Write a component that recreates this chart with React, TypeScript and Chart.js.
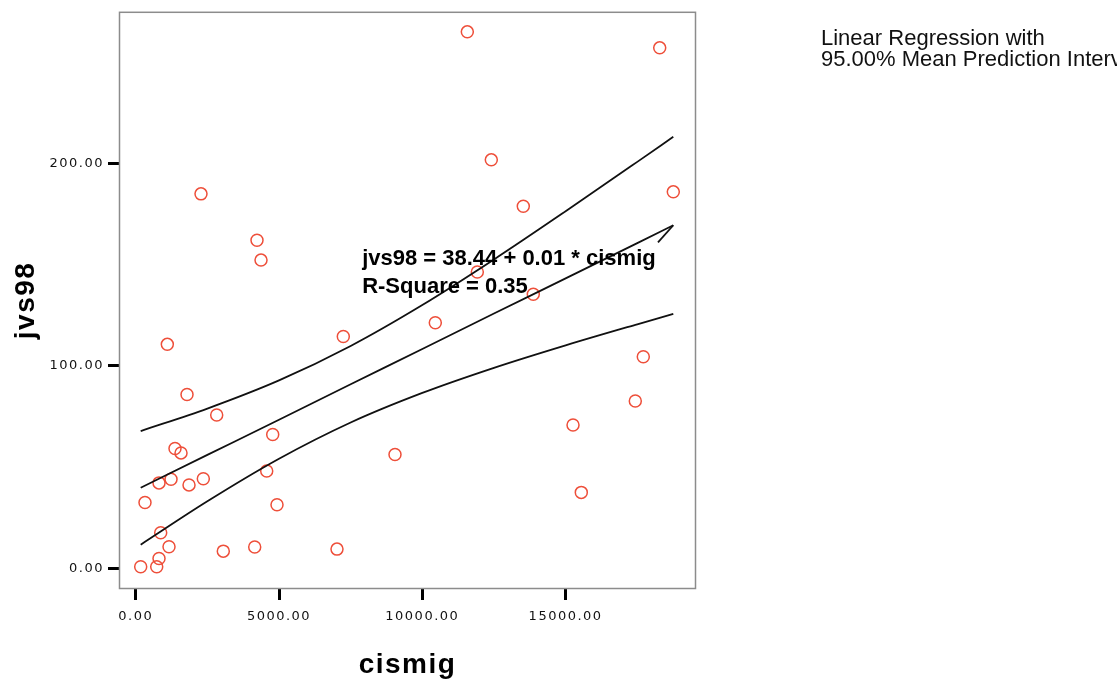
import React, { useEffect, useRef } from "react";
import { Chart, registerables } from "chart.js";

Chart.register(...registerables);

// ---- data ----
const cismig = [
  11570, 18283, 12407, 18757, 2278, 13523, 4232, 4372, 11919, 13872,
  7243, 10453, 1103, 17710, 1790, 17431, 2826, 4780, 1371, 1581,
  15258, 9047, 4571, 1232, 2359, 813, 1860, 15547, 324, 4930,
  872, 1162, 4152, 3056, 7023, 813, 174, 733,
];
const jvs98 = [
  264.9, 257.0, 201.7, 185.9, 184.9, 178.8, 162.0, 152.2, 146.3, 135.3,
  114.5, 121.3, 110.6, 104.5, 85.8, 82.6, 75.7, 66.1, 59.2, 57.0,
  70.8, 56.2, 48.1, 44.0, 44.2, 42.2, 41.2, 37.5, 32.5, 31.4,
  17.6, 10.7, 10.5, 8.5, 9.5, 4.9, 0.8, 0.8,
];

const bandX = [174, 2500, 5000, 7500, 10000, 12500, 15000, 17500, 18757];
const fitY = [39.8, 56.0, 73.4, 90.9, 108.3, 125.8, 143.2, 160.6, 169.4];
const upperY = [67.8, 78.9, 92.8, 109.8, 130.0, 152.5, 176.3, 200.7, 213.1];
const lowerY = [11.7, 33.1, 54.1, 72.0, 86.6, 99.0, 110.1, 120.5, 125.6];

const arrowX = [18757, 18223];
const arrowY = [169.4, 161.0];

const xTicks = [0, 5000, 10000, 15000];
const yTicks = [0, 100, 200];
const xRange = [-583, 19549];
const yRange = [-10.2, 274.8];

const xTitle = "cismig";
const yTitle = "jvs98";
const equationLines = ["jvs98 = 38.44 + 0.01 * cismig", "R-Square = 0.35"];
const equationAnchor = [7900, 150];
const legendLines = ["Linear Regression with", "95.00% Mean Prediction Interval"];

const pointColor = "#ee4f3a";
const lineColor = "#111111";

const overlayPlugin = {
  id: "overlay",
  beforeDraw(chart: any) {
    chart.ctx.letterSpacing = "1.5px";
  },
  beforeDatasetsDraw(chart: any) {
    const { ctx, chartArea } = chart;
    ctx.save();
    ctx.letterSpacing = "0px";
    ctx.strokeStyle = "#8c8c8c";
    ctx.lineWidth = 1.5;
    ctx.strokeRect(
      chartArea.left + 0.5,
      chartArea.top + 0.5,
      chartArea.right - chartArea.left - 1,
      chartArea.bottom - chartArea.top - 1
    );
    ctx.restore();
  },
  afterDraw(chart: any) {
    const { ctx } = chart;
    const xs = chart.scales.x;
    const ys = chart.scales.y;
    ctx.save();
    ctx.letterSpacing = "0px";
    ctx.fillStyle = "#000";
    ctx.textAlign = "left";
    ctx.textBaseline = "alphabetic";
    ctx.font = "bold 22px 'Liberation Sans', Arial, sans-serif";
    const ax = xs.getPixelForValue(equationAnchor[0]);
    const ay = ys.getPixelForValue(equationAnchor[1]);
    equationLines.forEach((t, i) => ctx.fillText(t, ax, ay + i * 28));
    ctx.font = "22px 'Liberation Sans', Arial, sans-serif";
    ctx.fillStyle = "#111";
    legendLines.forEach((t, i) => ctx.fillText(t, 821, 45 + i * 21));
    ctx.restore();
  },
};

export default function App() {
  const ref = useRef<HTMLCanvasElement | null>(null);

  useEffect(() => {
    if (!ref.current) return;
    const tickFont = { family: "'DejaVu Sans', sans-serif", size: 13 };
    const titleFont = { family: "'Liberation Sans', Arial, sans-serif", size: 28, weight: "bold" as const };
    const lineDs = (label: string, ys: number[]) => ({
      type: "line" as const,
      label,
      data: bandX.map((x, i) => ({ x, y: ys[i] })),
      borderColor: lineColor,
      borderWidth: 1.8,
      pointRadius: 0,
      fill: false,
      cubicInterpolationMode: "monotone" as const,
      tension: 0.4,
    });
    const chart = new Chart(ref.current, {
      type: "scatter",
      data: {
        datasets: [
          lineDs("Upper", upperY),
          lineDs("Fit", fitY),
          lineDs("Lower", lowerY),
          {
            type: "line" as const,
            label: "arrow",
            data: arrowX.map((x, i) => ({ x, y: arrowY[i] })),
            borderColor: lineColor,
            borderWidth: 1.8,
            pointRadius: 0,
            fill: false,
          },
          {
            label: "jvs98",
            data: cismig.map((x, i) => ({ x, y: jvs98[i] })),
            pointStyle: "circle",
            pointRadius: 6,
            pointBorderWidth: 1.5,
            borderColor: pointColor,
            backgroundColor: "rgba(0,0,0,0)",
          } as any,
        ],
      },
      options: {
        responsive: false,
        animation: false,
        layout: { padding: { left: 0, right: 421, top: 11, bottom: 0 } },
        plugins: {
          legend: { display: false },
          tooltip: { enabled: false },
        },
        scales: {
          x: {
            type: "linear",
            min: xRange[0],
            max: xRange[1],
            afterFit: (s: any) => {
              s.height = 94;
            },
            afterBuildTicks: (s: any) => {
              s.ticks = xTicks.map((v) => ({ value: v }));
            },
            ticks: {
              callback: (v: any) => Number(v).toFixed(2),
              font: tickFont,
              color: "#111",
              padding: 9,
              autoSkip: false,
              maxRotation: 0,
            },
            grid: {
              drawOnChartArea: false,
              drawTicks: true,
              tickLength: 11,
              tickWidth: 3,
              tickColor: "#000",
            },
            border: { display: false },
            title: {
              display: true,
              text: xTitle,
              font: titleFont,
              color: "#000",
              padding: { top: 0, bottom: 1 },
            },
          },
          y: {
            type: "linear",
            min: yRange[0],
            max: yRange[1],
            afterFit: (s: any) => {
              s.width = 119;
            },
            afterBuildTicks: (s: any) => {
              s.ticks = yTicks.map((v) => ({ value: v }));
            },
            ticks: {
              callback: (v: any) => Number(v).toFixed(2),
              font: tickFont,
              color: "#111",
              padding: 4,
              autoSkip: false,
            },
            grid: {
              drawOnChartArea: false,
              drawTicks: true,
              tickLength: 11,
              tickWidth: 3,
              tickColor: "#000",
            },
            border: { display: false },
            title: {
              display: true,
              text: yTitle,
              font: titleFont,
              color: "#000",
              padding: { top: 9, bottom: 0 },
            },
          },
        },
      },
      plugins: [overlayPlugin],
    });
    return () => chart.destroy();
  }, []);

  return (
    <div
      style={{
        position: "fixed",
        left: 0,
        top: 0,
        width: 1117,
        height: 683,
        background: "#fff",
        overflow: "hidden",
      }}
    >
      <canvas ref={ref} width={1117} height={683} style={{ display: "block" }} />
    </div>
  );
}
